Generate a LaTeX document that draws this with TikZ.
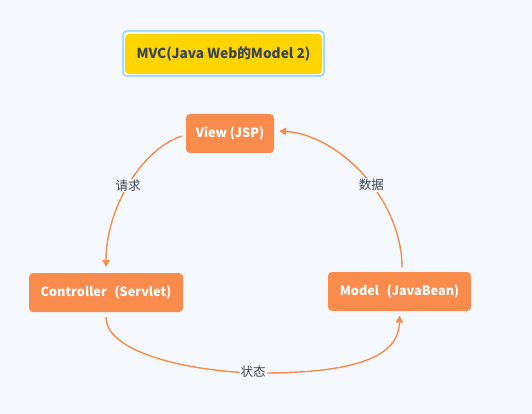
\documentclass[tikz,border=0pt]{standalone}
\usepackage{fontspec}
\setmainfont{Noto Sans CJK SC}
\usetikzlibrary{arrows.meta}
\definecolor{bgc}{HTML}{F5F9FD}
\definecolor{org}{HTML}{F98B4C}
\definecolor{ttl}{HTML}{FFD500}
\definecolor{ttlb}{HTML}{A8DAF9}
\definecolor{txt}{HTML}{3B4452}
\tikzset{
  box/.style={fill=org, rounded corners=4pt, text=white, font=\bfseries\fontsize{12.7}{14}\selectfont, minimum height=39pt, inner sep=0pt},
  link/.style={draw=org, line width=1.4pt, -{Triangle[length=7pt,width=7.5pt]}},
  lbl/.style={fill=bgc, text=txt, font=\fontsize{12.5}{14}\selectfont, inner sep=1pt}
}
\begin{document}
\begin{tikzpicture}[x=1pt,y=-1pt]
\fill[bgc] (0,0) rectangle (532,414);
\useasboundingbox (0,0) rectangle (532,414);
% title
\draw[ttlb, line width=2pt, fill=white, rounded corners=4pt] (123,31) rectangle (324,76);
\node[fill=ttl, rounded corners=4pt, minimum width=197pt, minimum height=40pt, inner sep=0pt, text=txt, font=\bfseries\fontsize{13.7}{15}\selectfont] (title) at (223.5,54) {MVC(Java Web的Model 2)};
% nodes
\node[box, minimum width=88pt] (view) at (230,133.5) {View (JSP)};
\node[box, minimum width=154pt] (ctrl) at (106,292.5) {Controller\hspace{0.6em}(Servlet)};
\node[box, minimum width=143pt] (model) at (399.5,291.5) {Model\hspace{0.6em}(JavaBean)};
% edges
\coordinate (a1) at ([xshift=-4pt,yshift=-2.5pt]view.west);
\coordinate (a2) at ([yshift=6pt]ctrl.north);
\draw[link] (a1) .. controls (140,150) and (106,210) .. (a2)
  node[lbl, pos=0.5] (l1) {请求};
\coordinate (b1) at ([xshift=2.5pt,yshift=4.5pt]model.north);
\coordinate (b2) at ([xshift=5pt,yshift=2.5pt]view.east);
\draw[link] (b1) .. controls (402,200) and (340,135) .. (b2)
  node[lbl, pos=0.44] (l2) {数据};
\coordinate (c1) at ([yshift=-5pt]ctrl.south);
\coordinate (c2) at ([yshift=-4.5pt]model.south);
\coordinate (cm) at (262,373);
\draw[link] (c1) .. controls (106,355) and (200,373) .. (cm)
  .. controls (360,373) and (399,355) .. (c2);
\node[lbl] (l3) at (253,372) {状态};
\end{tikzpicture}
\end{document}
